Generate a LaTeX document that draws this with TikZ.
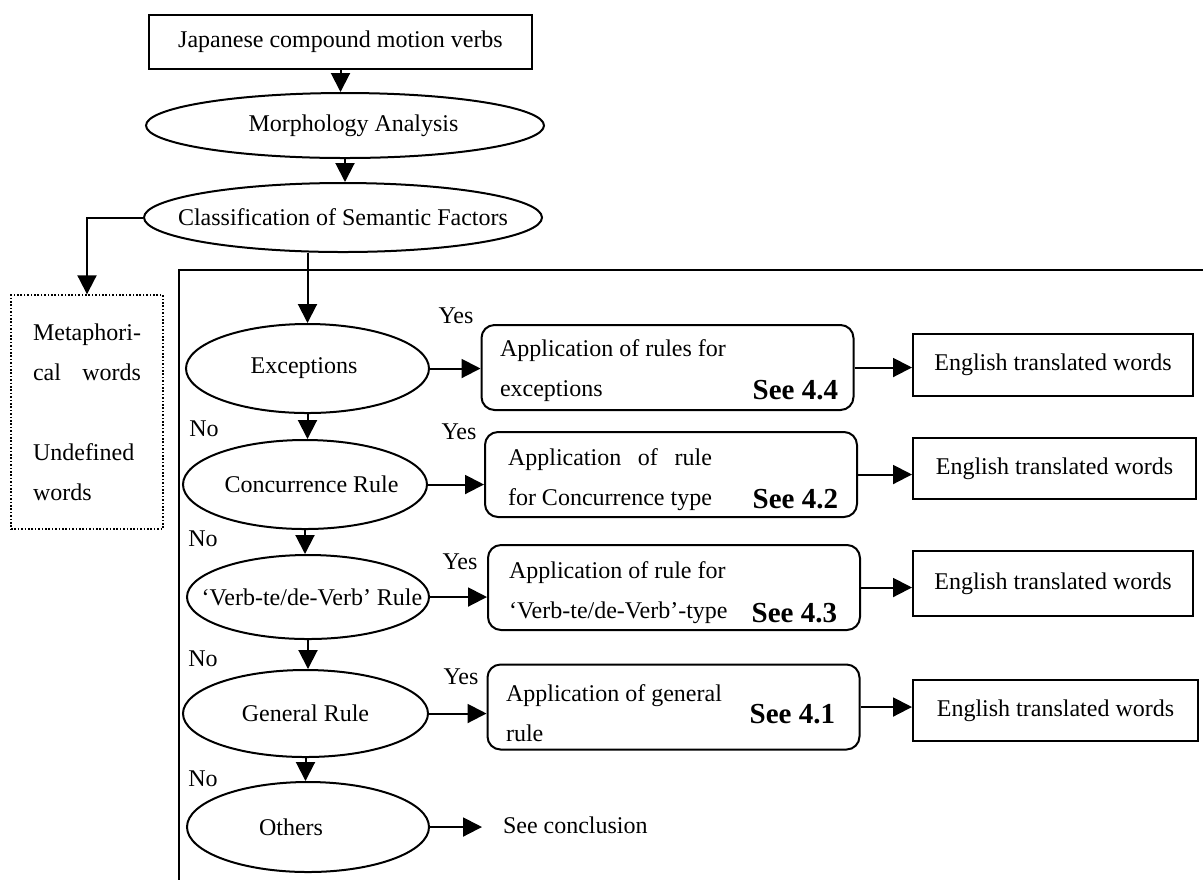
\documentclass[tikz,border=0pt]{standalone}
\usepackage{fontspec}
\setmainfont{Liberation Serif}
\usetikzlibrary{arrows.meta,shapes.geometric,positioning}

% zero-width box, keeps long labels from widening the ovals
\newcommand{\zw}[1]{\makebox[0pt]{#1}}

\begin{document}
\begin{tikzpicture}[x=0.5pt, y=-0.5pt, >={Triangle[length=9.5pt,width=9.5pt]},
    line width=1pt, font=\fontsize{12pt}{20pt}\selectfont,
    every node/.style={inner sep=0pt},
    termbox/.style={draw, rectangle},
    oval/.style={draw, ellipse},
    rulebox/.style={draw, rounded corners=6.5pt, minimum width=186pt, minimum height=42.5pt},
    engbox/.style={draw, rectangle, minimum height=31pt},
    seenote/.style={anchor=east, font=\fontsize{14.5pt}{16pt}\selectfont\bfseries},
    apptext/.style={anchor=west}]
  \useasboundingbox (0,0) rectangle (1203,880);

  % upper part
  \node[termbox, minimum width=191.5pt, minimum height=27pt] (Top) at (340.5,42) {Japanese compound motion verbs};
  \node[oval, minimum width=199pt, minimum height=32.5pt] (Morph) at (345,125.5) {\zw{\hspace{8.5pt}Morphology Analysis}};
  \node[oval, minimum width=199pt, minimum height=34.5pt] (Classif) at (343,217.5) {\zw{Classification of Semantic Factors}};
  \node[draw, dash pattern=on 0.8pt off 0.9pt, line width=0.7pt, minimum width=76pt, minimum height=117pt] (Meta) at (87,412)
    {\begin{tabular}{@{}l@{}}Metaphori-\\cal\hfill words\\ \\Undefined\\words\end{tabular}};

  % frame round the rules
  \draw (1203,270) -- (179,270) -- (179,880);

  % decision column
  \node[oval, minimum width=121.5pt, minimum height=44.5pt] (Exc) at (307.5,368.5) {\zw{Exceptions\hspace{3.5pt}}};
  \node[oval, minimum width=122pt, minimum height=44.5pt] (Conc) at (305,484.5) {\zw{\hspace{6.5pt}Concurrence Rule}};
  \node[oval, minimum width=121pt, minimum height=42pt] (Verb) at (308,597) {\zw{\hspace{4pt}`Verb-te/de-Verb' Rule}};
  \node[oval, minimum width=122.5pt, minimum height=43.5pt] (Gen) at (305.5,713.5) {\zw{General Rule}};
  \node[oval, minimum width=121pt, minimum height=45pt] (Oth) at (308,827) {\zw{Others\hspace{17pt}}};

  % rule boxes
  \node[rulebox] (App1) at (667.5,367.5) {};
  \node[rulebox] (App2) at (671,474.5) {};
  \node[rulebox] (App3) at (674,587.5) {};
  \node[rulebox] (App4) at (673.5,707) {};
  \node[apptext] (Txt1) at (499,368.5) {\begin{tabular}{@{}l@{}}Application of rules for\\exceptions\end{tabular}};
  \node[apptext] (Txt2) at (507,477.5) {\begin{tabular}{@{}l@{}}Application\hfill of\hfill rule\\for Concurrence type\end{tabular}};
  \node[apptext] (Txt3) at (508,590) {\begin{tabular}{@{}l@{}}Application of rule for\\`Verb-te/de-Verb'-type\end{tabular}};
  \node[apptext] (Txt4) at (505,713) {\begin{tabular}{@{}l@{}}Application of general\\rule\end{tabular}};
  \node[seenote] (See1) at (839,390) {See 4.4};
  \node[seenote] (See2) at (839,499) {See 4.2};
  \node[seenote] (See3) at (838,613) {See 4.3};
  \node[seenote] (See4) at (836,714) {See 4.1};

  % results
  \node[engbox, minimum width=140pt] (Eng1) at (1053,365) {English translated words};
  \node[engbox, minimum width=141.5pt, minimum height=30.5pt] (Eng2) at (1054.5,468.5) {English translated words};
  \node[engbox, minimum width=140pt, minimum height=32.5pt] (Eng3) at (1053,583.5) {English translated words};
  \node[engbox, minimum width=142.5pt, minimum height=30.5pt] (Eng4) at (1055.5,710.5) {English translated words};
  \node[anchor=west, inner xsep=10pt] (Concl) at (482,825) {See conclusion};

  % yes / no
  \node (Yes1) at (456,316) {Yes};
  \node (Yes2) at (459,432) {Yes};
  \node (Yes3) at (460,562) {Yes};
  \node (Yes4) at (461,677) {Yes};
  \node (No1) at (204,429) {No};
  \node (No2) at (203,539) {No};
  \node (No3) at (203,659) {No};
  \node (No4) at (203,779) {No};

  % arrows
  \draw[->] (Top.south) -- (Top.south |- Morph.north);
  \draw[->] (Morph.south) -- (Morph.south |- Classif.north);
  \draw[->] (Classif.west) -| (Meta.north);
  \draw[->] (Exc.north |- Classif.south) -- (Exc.north);
  \draw[->] (Exc.south) -- (Exc.south |- Conc.north);
  \draw[->] (Conc.south) -- (Conc.south |- Verb.north);
  \draw[->] (Verb.south) -- (Verb.south |- Gen.north);
  \draw[->] (Gen.south) -- (Gen.south |- Oth.north);
  \draw[->] (Exc.east) -- (Exc.east -| App1.west);
  \draw[->] (Conc.east) -- (Conc.east -| App2.west);
  \draw[->] (Verb.east) -- (Verb.east -| App3.west);
  \draw[->] (Gen.east) -- (Gen.east -| App4.west);
  \draw[->] (Oth.east) -- (Oth.east -| Concl.west);
  \draw[->] (App1.east) -- (App1.east -| Eng1.west);
  \draw[->] (App2.east) -- (App2.east -| Eng2.west);
  \draw[->] (App3.east) -- (App3.east -| Eng3.west);
  \draw[->] (App4.east) -- (App4.east -| Eng4.west);
\end{tikzpicture}
\end{document}
